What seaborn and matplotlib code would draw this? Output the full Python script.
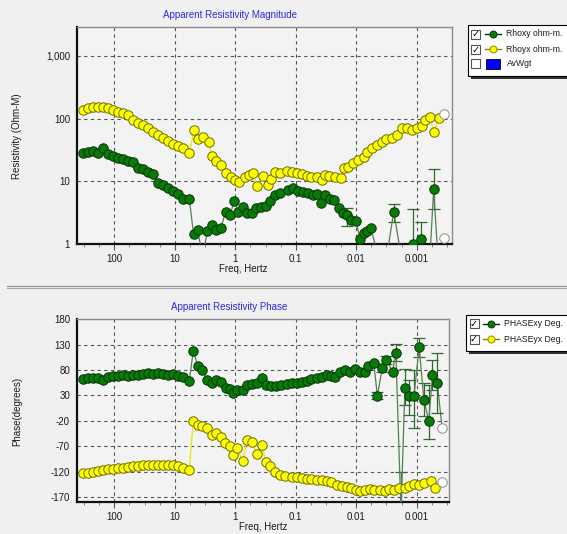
import numpy as np
import matplotlib
matplotlib.use("Agg")
import matplotlib.pyplot as plt
import seaborn as sns
import pandas as pd
from matplotlib.patches import Rectangle
from matplotlib.lines import Line2D
from matplotlib.ticker import FixedLocator, NullFormatter

# ---------------- data (log10 of frequency in Hz, values) ----------------
hi_logf = [2.512, 2.43, 2.347, 2.265, 2.18, 2.1, 2.017, 1.934, 1.85, 1.77, 1.69,
           1.61, 1.53, 1.45, 1.365, 1.28, 1.2, 1.117, 1.035, 0.952, 0.87, 0.76]

# Rhoyx (yellow, top)
ryx_logf = hi_logf + [0.678, 0.612, 0.529, 0.435, 0.39, 0.32, 0.241, 0.154, 0.076, 0.005,
                      -0.066, -0.16, -0.22, -0.288, -0.353, -0.45, -0.535, -0.59, -0.655, -0.74,
                      -0.85, -0.93, -1.015, -1.1, -1.18, -1.26, -1.345, -1.43, -1.48, -1.55,
                      -1.65, -1.74, -1.8, -1.87, -1.95, -2.03, -2.12, -2.17, -2.255, -2.34,
                      -2.42, -2.5, -2.585, -2.67, -2.75, -2.835, -2.92, -3.0, -3.08, -3.14,
                      -3.22, -3.28, -3.37]
ryx_val = [137, 146, 151, 155, 151, 146, 137, 129, 121, 114, 95, 84, 79, 70, 62, 55,
           50, 44, 40, 37, 34, 28,
           67, 47, 51, 42, 25, 21, 18, 13.4, 11.8, 10.5,
           9.9, 11.8, 12.6, 13.4, 8.5, 12.1, 8.7, 10.8, 14.2, 13.7,
           14.6, 14.2, 13.7, 13.1, 12.3, 11.8, 11.6, 10.5, 12.6, 12.3,
           11.8, 11.4, 16.1, 17.1, 19.4, 21.9, 24.7, 29.6, 33.6, 37.9,
           42.8, 46.8, 50, 54.7, 70, 70, 67, 70, 76, 95,
           105, 62, 101]
ryx_end = (-3.45, 117)

# Rhoxy (green, top)
rxy_logf = hi_logf + [0.69, 0.62, 0.54, 0.463, 0.38, 0.32, 0.24, 0.158, 0.087, 0.017,
                      -0.05, -0.13, -0.19, -0.28, -0.34, -0.42, -0.5, -0.57, -0.656, -0.74,
                      -0.876, -0.96, -1.04, -1.12, -1.2, -1.29, -1.345, -1.41, -1.48,
                      -1.565, -1.63, -1.715, -1.785, -1.85, -1.92, -2.0, -2.06, -2.12, -2.18,
                      -2.24, -2.45, -2.62, -2.8, -2.94, -3.07, -3.2, -3.28, -3.37]
rxy_val = [28, 29.7, 30.8, 28.6, 34.3, 27.2, 25.3, 23.3, 22.4, 21.1, 20.1, 16.1, 15.5,
           14.2, 12.9, 9.5, 8.7, 7.7, 7.1, 6.3, 5.2, 5.2,
           1.43, 1.67, 0.6, 1.61, 2.0, 1.67, 1.82, 3.2, 2.9, 4.9,
           3.27, 3.9, 3.1, 3.1, 3.7, 3.9, 4.1, 4.9, 6.0, 6.6,
           7.3, 7.7, 7.1, 6.8, 6.4, 6.0, 6.2, 4.5, 6.0,
           5.2, 5.0, 3.7, 3.1, 2.9, 2.4, 2.35, 1.19, 1.48, 1.63,
           1.82, 0.3, 3.27, 0.3, 1.0, 1.19, 0.3, 7.5, 0.3]
rxy_end = (-3.45, 1.23)
# error bars (logf, value, low, high)
rxy_err_logf = [-1.85, -2.62, -2.94, -3.07, -3.28]
rxy_err_val = [2.9, 3.27, 1.0, 1.19, 7.5]
rxy_err_lo = [1.96, 2.27, 0.5, 0.5, 3.6]
rxy_err_hi = [3.8, 4.35, 3.6, 2.27, 15.7]

# PHASExy (green, bottom)
pxy_logf = hi_logf + [0.694, 0.62, 0.545, 0.463, 0.39, 0.32, 0.24, 0.158, 0.087, 0.033,
                      -0.033, -0.12, -0.2, -0.28, -0.353, -0.436, -0.5, -0.584, -0.666, -0.75,
                      -0.85, -0.93, -1.015, -1.1, -1.18, -1.26, -1.345, -1.43, -1.51, -1.59,
                      -1.65, -1.73, -1.81, -1.9, -1.98, -2.06, -2.14, -2.2, -2.29, -2.35,
                      -2.43, -2.5, -2.6, -2.656, -2.74, -2.805, -2.876, -2.954, -3.04, -3.12,
                      -3.2, -3.26, -3.34]
pxy_val = [62.6, 64, 65.2, 64, 60.7, 67.2, 68.5, 68.5, 69.8, 69, 70.5, 70.5, 72.5, 73.8,
           72.5, 73.8, 72.5, 70.5, 71.8, 68.5, 67.2, 59.4,
           117.7, 88, 80, 61, 55, 61, 57, 44, 42, 34.5,
           41, 41, 51, 52, 55, 64, 51, 48, 49, 51,
           53, 54, 55.4, 57.4, 59.4, 62, 64, 67, 70.5, 68.5,
           66, 77, 80, 77, 81.6, 77, 77, 88, 93.4, 29.2,
           83.6, 100, 77, 113, -200, 44.3, 29, 28, 125, 21,
           -20, 70, 54]
pxy_end = (-3.42, -34)
pxy_err_logf = [-2.35, -2.43, -2.5, -2.656, -2.74, -2.805, -2.876, -2.954, -3.04, -3.12, -3.2, -3.26, -3.34]
pxy_err_val = [29.2, 83.6, 100, 113, -200, 44.3, 29, 28, 125, 21, -20, 70, 54]
pxy_err_lo = [22, 76, 92, 97, -200, 11.5, -8, -34, 106.5, -10, -56, 40, -4]
pxy_err_hi = [36, 91, 108, 131, -120, 82, 60, 80, 142.6, 54, 51, 100, 113]

# PHASEyx (yellow, bottom)
pyx_logf = hi_logf + [0.694, 0.62, 0.545, 0.463, 0.39, 0.32, 0.24, 0.17, 0.087, 0.033,
                      -0.03, -0.12, -0.2, -0.28, -0.353, -0.436, -0.51, -0.58, -0.66, -0.74,
                      -0.82, -0.93, -1.015, -1.1, -1.18, -1.26, -1.345, -1.43, -1.51, -1.59,
                      -1.68, -1.76, -1.84, -1.92, -2.0, -2.06, -2.14, -2.22, -2.3, -2.39,
                      -2.47, -2.55, -2.63, -2.71, -2.8, -2.88, -2.96, -3.04, -3.12, -3.23,
                      -3.3]
pyx_val = [-123, -122, -120, -118, -116, -115, -114, -113, -113, -111, -110, -110, -108,
           -108, -108, -106.5, -108, -108, -108, -110, -113, -116,
           -21, -28, -31, -34, -47.5, -44, -51, -64, -70, -88,
           -74, -100, -57, -62, -85.5, -67, -102, -110, -120, -126,
           -129, -131, -131, -133, -134, -135, -136, -137, -139, -141,
           -146, -149, -150, -152, -156, -159, -156, -154, -156, -156,
           -158, -154, -156, -152, -152, -148, -144, -146, -142, -139,
           -152]
pyx_end = (-3.41, -141)

freq_ticks = [100, 10, 1, 0.1, 0.01, 0.001]
freq_labels = ["100", "10", "1", "0.1", "0.01", "0.001"]
res_ticks = [1, 10, 100, 1000]
res_labels = ["1", "10", "100", "1,000"]
ph_ticks = [-170, -120, -70, -20, 30, 80, 130, 180]

# ---------------- styling ----------------
W, H = 567, 534
FONT = "Liberation Sans"
plt.rcParams["font.family"] = [FONT, "DejaVu Sans"]

GREEN_F, GREEN_E, GREEN_L = "#087a08", "#053505", "#557f55"
YEL_F, YEL_E, YEL_L = "#ffff00", "#6d6d00", "#e8e800"
ERR_C = "#2e6a2e"
MS = 6.8

fig = plt.figure(figsize=(W / 100, H / 100), dpi=100)
fig.patch.set_facecolor("#f0f0f0")


def px_axes(l, t, r, b):
    return fig.add_axes([l / W, 1 - b / H, (r - l) / W, (b - t) / H])


ax1 = px_axes(77, 27, 451.7, 244)
ax2 = px_axes(77, 319.3, 449, 502)


def style_axes(ax):
    ax.set_facecolor("#f3f3f3")
    ax.set_xscale("log")
    for s in ["left", "bottom"]:
        ax.spines[s].set_color("#111111")
        ax.spines[s].set_linewidth(1.6)
    for s in ["top", "right"]:
        ax.spines[s].set_color("#8a8a8a")
        ax.spines[s].set_linewidth(1.0)
    ax.xaxis.set_major_locator(FixedLocator(freq_ticks))
    ax.set_xticklabels(freq_labels)
    subs = []
    for d in range(-4, 3):
        for q in (0.25, 0.5, 0.75):
            subs.append(10 ** (d + q))
    ax.xaxis.set_minor_locator(FixedLocator(subs))
    ax.xaxis.set_minor_formatter(NullFormatter())
    ax.tick_params(axis="x", which="major", length=4, width=0.8, color="#555555",
                   labelsize=7, pad=3, labelcolor="#1a1a1a")
    ax.tick_params(axis="x", which="minor", length=2.5, width=0.6, color="#777777")
    ax.tick_params(axis="y", which="both", length=0, labelsize=7, pad=5, labelcolor="#1a1a1a")
    ax.grid(True, which="major", linestyle=(0, (3, 3)), color="#555555", linewidth=0.8)
    ax.set_axisbelow(True)
    ax.set_xlabel("")
    ax.set_ylabel("")


def series(ax, logf, vals, fc, ec, lc):
    df = pd.DataFrame({"freq": 10 ** np.array(logf, dtype=float), "val": vals})
    sns.lineplot(data=df, x="freq", y="val", ax=ax, sort=False, estimator=None,
                 color=lc, linewidth=0.9, marker="o", markersize=MS,
                 markerfacecolor=fc, markeredgecolor=ec, markeredgewidth=0.7,
                 legend=False, zorder=3)


def end_point(ax, logf_prev, val_prev, end, lc):
    ax.plot([10 ** logf_prev, 10 ** end[0]], [val_prev, end[1]], color=lc, lw=0.9, zorder=2)
    ax.plot([10 ** end[0]], [end[1]], "o", ms=MS, mfc="white", mec="#8c8c8c", mew=0.7, zorder=4)


def errbars(ax, lf, v, lo, hi):
    x = 10 ** np.array(lf)
    v = np.array(v, float)
    yerr = [v - np.array(lo, float), np.array(hi, float) - v]
    ax.errorbar(x, v, yerr=yerr, fmt="none", ecolor=ERR_C, elinewidth=0.9,
                capsize=4, capthick=0.9, zorder=2.5)


# ---------------- top: resistivity ----------------
style_axes(ax1)
ax1.set_yscale("log")
errbars(ax1, rxy_err_logf, rxy_err_val, rxy_err_lo, rxy_err_hi)
series(ax1, rxy_logf, rxy_val, GREEN_F, GREEN_E, GREEN_L)
series(ax1, ryx_logf, ryx_val, YEL_F, YEL_E, YEL_L)
end_point(ax1, rxy_logf[-1], rxy_val[-1], rxy_end, GREEN_L)
end_point(ax1, ryx_logf[-1], ryx_val[-1], ryx_end, YEL_L)
ax1.yaxis.set_major_locator(FixedLocator(res_ticks))
ax1.set_yticklabels(res_labels)
ax1.yaxis.set_minor_formatter(NullFormatter())
ax1.yaxis.set_minor_locator(FixedLocator([]))
ax1.set_ylim(1, 2900)
ax1.set_xlim(10 ** 2.617, 10 ** -3.578)
ax1.set_xlabel("")
ax1.set_ylabel("")

# ---------------- bottom: phase ----------------
style_axes(ax2)
errbars(ax2, pxy_err_logf, pxy_err_val, pxy_err_lo, pxy_err_hi)
series(ax2, pxy_logf, pxy_val, GREEN_F, GREEN_E, GREEN_L)
series(ax2, pyx_logf, pyx_val, YEL_F, YEL_E, YEL_L)
end_point(ax2, pxy_logf[-1], pxy_val[-1], pxy_end, GREEN_L)
end_point(ax2, pyx_logf[-1], pyx_val[-1], pyx_end, YEL_L)
ax2.yaxis.set_major_locator(FixedLocator(ph_ticks))
ax2.set_yticklabels([str(t) for t in ph_ticks])
ax2.set_ylim(-180, 180)
ax2.set_xlim(10 ** 2.617, 10 ** -3.534)
ax2.set_xlabel("")
ax2.set_ylabel("")

# ---------------- overlay (titles, labels, legends, separator) ----------------
ov = fig.add_axes([0, 0, 1, 1], zorder=20)
ov.set_xlim(0, W)
ov.set_ylim(H, 0)
ov.axis("off")
ov.patch.set_alpha(0)

TCOL = "#2a2ae0"
ov.text(230, 15, "Apparent Resistivity Magnitude", color=TCOL, fontsize=7, ha="center", va="center")
ov.text(229, 307, "Apparent Resistivity Phase", color=TCOL, fontsize=7, ha="center", va="center")
ov.text(17, 136, "Resistivity (Ohm-M)", rotation=90, fontsize=7, ha="center", va="center", color="#1a1a1a")
ov.text(17, 411, "Phase(degrees)", rotation=90, fontsize=7, ha="center", va="center", color="#1a1a1a")
ov.text(243, 269, "Freq, Hertz", fontsize=7, ha="center", va="center", color="#1a1a1a")
ov.text(263, 527, "Freq, Hertz", fontsize=7, ha="center", va="center", color="#1a1a1a")

# separator
ov.add_line(Line2D([7, W], [286, 286], color="#8f8f8f", lw=0.8))
ov.add_line(Line2D([7, W], [288.3, 288.3], color="#a8a8a8", lw=0.8))


def legend_box(x0, y0, h, rows, tx):
    ov.add_patch(Rectangle((x0 + 3, y0 + 3), 120, h, facecolor="#303030", edgecolor="none"))
    ov.add_patch(Rectangle((x0, y0), 120, h, facecolor="white", edgecolor="black", lw=0.8))
    for (y, label, kind, checked) in rows:
        cx = x0 + 3.5
        ov.add_patch(Rectangle((cx, y - 4.5), 9, 9, facecolor="white", edgecolor="#555555", lw=0.8))
        if checked:
            ov.text(cx + 4.5, y + 0.3, "\u2713", fontsize=7, ha="center", va="center",
                    color="black", family="DejaVu Sans", fontweight="bold")
        ix0, ix1 = x0 + 17, x0 + 33
        if kind == "blue":
            ov.add_patch(Rectangle((ix0 + 1, y - 5), 14.5, 10, facecolor="#0000ff", edgecolor="#000033", lw=0.6))
        else:
            fc, ec, lc = kind
            ov.add_line(Line2D([ix0, ix1], [y, y], color=ec, lw=1.0))
            ov.plot([(ix0 + ix1) / 2], [y], "o", ms=5, mfc=fc, mec=ec, mew=0.7)
        ov.text(tx, y, label, fontsize=6.2, ha="left", va="center", color="#1a1a1a")


legend_box(467.7, 25, 51, [
    (34, "Rhoxy ohm-m.", (GREEN_F, GREEN_E, GREEN_L), True),
    (49.3, "Rhoyx ohm-m.", (YEL_F, "#8a8a00", YEL_L), True),
    (63.5, "AvWgt", "blue", False),
], 506.5)
legend_box(466, 315, 36, [
    (323.5, "PHASExy Deg.", (GREEN_F, GREEN_E, GREEN_L), True),
    (339, "PHASEyx Deg.", (YEL_F, "#8a8a00", YEL_L), True),
], 504)

fig.savefig("out.png", dpi=100, facecolor=fig.get_facecolor())
